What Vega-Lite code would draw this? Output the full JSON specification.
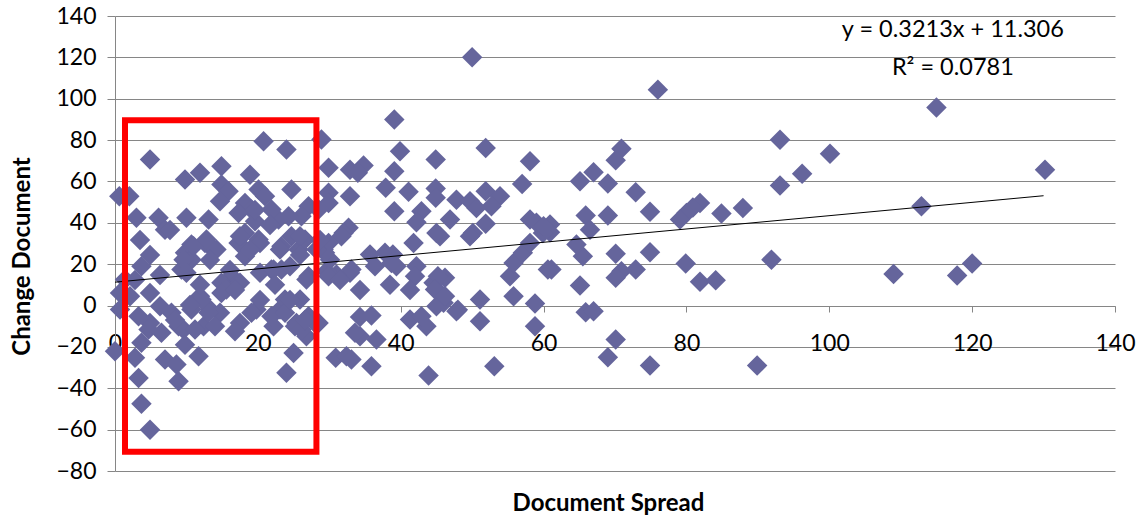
{
  "$schema": "https://vega.github.io/schema/vega-lite/v6.json",
  "width": 1000,
  "height": 455,
  "autosize": {"type": "none"},
  "padding": {"left": 115, "top": 16, "right": 27, "bottom": 46},
  "background": "white",
  "config": {"view": {"stroke": null}, "font": "Lato"},
  "datasets": {
    "points": [
      {"x":130.2,"y":65.7},{"x":115,"y":95.7},{"x":112.9,"y":48},{"x":109,"y":15.3},{"x":117.9,"y":14.5},{"x":120,"y":20.3},{"x":100.1,"y":73.4},{"x":93.1,"y":80.2},{"x":76,"y":104.4},{"x":93.1,"y":58},{"x":96.2,"y":63.7},{"x":70.9,"y":75.8},{"x":70.1,"y":70.2},{"x":67,"y":64.4},{"x":65.1,"y":60.1},{"x":69,"y":59},{"x":72.9,"y":54.8},{"x":74.9,"y":45.4},{"x":65.9,"y":43.5},{"x":69,"y":43.5},{"x":66.5,"y":36.7},{"x":81.9,"y":49.6},{"x":80.9,"y":47.4},{"x":80,"y":44.8},{"x":79.1,"y":41.6},{"x":84.9,"y":44.5},{"x":87.9,"y":47.2},{"x":60.9,"y":39.2},{"x":60.9,"y":35.4},
      {"x":91.9,"y":22.2},{"x":79.9,"y":20.3},{"x":81.9,"y":11.5},{"x":84.1,"y":12.2},{"x":74.9,"y":25.8},{"x":70.1,"y":25.1},{"x":72.9,"y":17.4},{"x":70.9,"y":16.6},{"x":70.1,"y":13.4},{"x":65.1,"y":9.7},{"x":65.9,"y":-3.2},{"x":67,"y":-2.7},{"x":70.1,"y":-16.4},{"x":69,"y":-25},{"x":74.9,"y":-29},{"x":89.9,"y":-29},{"x":61.1,"y":17.4},{"x":65.5,"y":23.8},{"x":64.6,"y":29.5},{"x":50,"y":120},
      {"x":60.6,"y":17.4},{"x":58.8,"y":1},{"x":58.8,"y":-10},{"x":53.1,"y":-29.3},{"x":51.1,"y":2.9},{"x":51.1,"y":-7.6},{"x":43.9,"y":-33.8},{"x":35.9,"y":-29.3},{"x":30.9,"y":-25.3},{"x":32.4,"y":-24.5},{"x":34.3,"y":-14.8},{"x":36.6,"y":-16.4},{"x":34.3,"y":-5.5},{"x":35.9,"y":-4.8},{"x":41.3,"y":-6.8},{"x":43.6,"y":-10},{"x":47.8,"y":-2.8},{"x":45.5,"y":6.1},{"x":46,"y":1.3},{"x":46.2,"y":13.4},{"x":45,"y":-0.3},{"x":55.8,"y":4.5},{"x":55.3,"y":14.2},{"x":55.8,"y":20.6},{"x":57.1,"y":25.5},{"x":58.1,"y":30.3},{"x":59.9,"y":35.1},{"x":42.2,"y":19},{"x":39.4,"y":19},{"x":44.6,"y":11},{"x":35.7,"y":24.7},{"x":38.9,"y":24.7},{"x":32.9,"y":15.8},{"x":31,"y":15},{"x":29.6,"y":16.6},{"x":29.2,"y":27.1},{"x":30.1,"y":22.2},{"x":41.8,"y":30.3},{"x":45.5,"y":33.5},{"x":50.1,"y":35.1},{"x":28.2,"y":-9.2},
      {"x":39.1,"y":89.9},{"x":28.9,"y":80.3},{"x":39.9,"y":74.6},{"x":51.9,"y":76.2},{"x":44.9,"y":70.6},{"x":58.1,"y":69.8},{"x":29.9,"y":66.6},{"x":32.9,"y":65.7},{"x":34.8,"y":67.7},{"x":34,"y":64.2},{"x":39.1,"y":64.9},{"x":57,"y":58.8},{"x":37.9,"y":56.9},{"x":41.1,"y":55},{"x":44.9,"y":56.6},{"x":44.9,"y":52.1},{"x":47.8,"y":51.2},{"x":49.7,"y":50.4},{"x":51.9,"y":55.3},{"x":53.9,"y":52.8},{"x":52.7,"y":48},{"x":50.6,"y":47.2},{"x":29.9,"y":54.5},{"x":29.9,"y":49.6},{"x":32.9,"y":52.8},{"x":39.1,"y":45.6},{"x":42.9,"y":45.6},{"x":42.2,"y":40.3},{"x":46.9,"y":41.6},{"x":51.9,"y":39.6},{"x":58.1,"y":41.6},{"x":59,"y":40},{"x":60,"y":38.3},{"x":32.7,"y":37.6},{"x":32,"y":35.1},{"x":45,"y":35.1},{"x":49.7,"y":33.5},
      {"x":24,"y":75.4},{"x":24.7,"y":56.1},{"x":28.5,"y":46.4},{"x":27.1,"y":48},{"x":26.1,"y":43.2},{"x":24.3,"y":43.2},{"x":22.9,"y":41.6},{"x":31.7,"y":33.5},{"x":29.9,"y":30.3},{"x":24.7,"y":33.5},{"x":26.6,"y":31.9},{"x":25.7,"y":27.1},{"x":23.3,"y":28.7},{"x":29.4,"y":25.5},{"x":37.8,"y":25.5},{"x":23.3,"y":17.4},{"x":27.1,"y":14.2},{"x":29.9,"y":14.2},{"x":33.1,"y":17.4},{"x":36.4,"y":19},{"x":38.7,"y":20.6},{"x":42,"y":14.2},{"x":45.2,"y":14.2},
      {"x":20.8,"y":79.4},{"x":4.9,"y":70.6},{"x":9.8,"y":60.9},{"x":11.9,"y":64.2},{"x":14.9,"y":67.3},{"x":18.9,"y":63.3},{"x":14.9,"y":58.5},{"x":15.9,"y":55.3},{"x":0.6,"y":52.8},{"x":2,"y":52.8},{"x":14.7,"y":50.4},{"x":20.1,"y":56.1},{"x":21,"y":52.8},{"x":18.2,"y":49.6},{"x":19.1,"y":46.4},{"x":3,"y":42.4},{"x":6.1,"y":42.4},{"x":7,"y":36.7},{"x":10,"y":42.4},{"x":13.1,"y":41.6},{"x":17.3,"y":44.8},{"x":21.9,"y":46.4},{"x":19.6,"y":40.8},{"x":18.2,"y":35.1},{"x":20.1,"y":31.9},{"x":10.7,"y":29.5},{"x":9.8,"y":25.5},{"x":13.5,"y":27.9},{"x":12.6,"y":30.3},{"x":17.3,"y":30.3},{"x":18.2,"y":23.8},{"x":21.9,"y":17.4},{"x":3.7,"y":19},{"x":10.7,"y":22.2},{"x":9.3,"y":17.4},{"x":1.4,"y":12.6},{"x":16.3,"y":14.2},{"x":14.9,"y":11},
      {"x":0.7,"y":6.1},{"x":2.1,"y":4.5},{"x":0.7,"y":-1.9},{"x":4.9,"y":6.1},{"x":6.3,"y":-0.3},{"x":4.9,"y":-8.4},{"x":9.6,"y":-11.6},{"x":9.6,"y":22.2},{"x":11,"y":28.7},{"x":12.8,"y":31.9},{"x":10,"y":15.8},{"x":14.2,"y":27.1},{"x":17.5,"y":33.5},{"x":20.3,"y":30.3},{"x":23.1,"y":27.1},{"x":25.9,"y":33.5},{"x":28.2,"y":27.1},{"x":11.9,"y":4.5},{"x":13.3,"y":-1.9},{"x":15.6,"y":7.7},{"x":17.5,"y":11},{"x":20.3,"y":15.8},{"x":22.2,"y":17.4},{"x":24.5,"y":19},{"x":26.8,"y":12.6},{"x":25.9,"y":2.9},{"x":23.1,"y":-1.9},{"x":19.8,"y":-1.9},{"x":17.5,"y":-8.4},{"x":14.7,"y":-3.5},{"x":12.4,"y":-10},{"x":22.2,"y":-10},{"x":25.4,"y":-8.4},{"x":26.8,"y":-14.8},
      {"x":3.3,"y":-5.2},{"x":4.7,"y":-11.6},{"x":3.7,"y":-18},{"x":0,"y":-22.1},{"x":2.8,"y":-25.3},{"x":3.3,"y":-35},{"x":3.7,"y":-47.5},{"x":4.9,"y":-60},{"x":7,"y":-26.1},{"x":8.6,"y":-28.5},{"x":8.9,"y":-36.6},{"x":9.8,"y":-18.9},{"x":11.7,"y":-24.5},{"x":8.9,"y":-10},{"x":7.9,"y":-3.5},{"x":13.1,"y":-3.5},{"x":14,"y":-10},{"x":16.8,"y":-12.4},{"x":11.2,"y":-11.6},{"x":10.7,"y":-1.9},{"x":12.1,"y":2.9},{"x":14.9,"y":6.1},{"x":19.1,"y":-3.5},{"x":21.9,"y":-5.2},{"x":24,"y":-32.5},{"x":6.5,"y":-13.2},{"x":25,"y":-22.9},{"x":23.8,"y":2.9},{"x":23.8,"y":-3.5},{"x":25.2,"y":-10},{"x":27.1,"y":-5.2},{"x":26.1,"y":-11.6},{"x":28.5,"y":-8.4},
      {"x":33.6,"y":-13.2},{"x":33.1,"y":-26.1},{"x":42.9,"y":-5.2},{"x":44.8,"y":7.7},{"x":46.2,"y":4.5},{"x":48,"y":-2},
      {"x":3.5,"y":31.7},{"x":4.9,"y":24.4},{"x":6.3,"y":14.8},{"x":2.8,"y":12.3},{"x":7.7,"y":36.5},{"x":13.3,"y":22},{"x":16.1,"y":17.2},{"x":11.9,"y":10},{"x":16.8,"y":7.5},{"x":18.9,"y":26.8},{"x":19.6,"y":46.2},{"x":21.7,"y":39},{"x":24.5,"y":2.7},{"x":26.6,"y":-7},{"x":10.5,"y":0.3},{"x":8.4,"y":-7},{"x":20.3,"y":2.7},{"x":22.4,"y":10},{"x":25.9,"y":24.4},{"x":28.7,"y":31.7},{"x":31.5,"y":12.3},{"x":34.3,"y":7.5},{"x":38.5,"y":10},{"x":41.3,"y":7.5}
    ],
    "trend": [{"x":0,"y":11.3},{"x":130,"y":53.1}],
    "box": [{"x1":1.4,"x2":28.2,"y1":89.6,"y2":-70.7}],
    "labels": [
      {"x":117.3,"y":133.2,"label":"y = 0.3213x + 11.306"},
      {"x":117.3,"y":114.7,"label":"R² = 0.0781"}
    ]
  },
  "layer": [
    {
      "data": {"name": "points"},
      "mark": {"type": "point", "shape": "diamond", "filled": true, "size": 420, "color": "#65659C", "opacity": 1},
      "encoding": {
        "x": {
          "field": "x", "type": "quantitative",
          "scale": {"domain": [0, 140], "nice": false, "zero": false},
          "axis": {
            "values": [0, 20, 40, 60, 80, 100, 120, 140],
            "title": "Document Spread",
            "offset": -165,
            "grid": false,
            "domainColor": "#868686",
            "tickColor": "#868686",
            "tickSize": 6,
            "labelFontSize": 23,
            "labelPadding": 20,
            "labelColor": "#000000",
            "labelFlush": false,
            "labelOverlap": false,
            "titleFontSize": 24,
            "titleFontWeight": "bold",
            "titleColor": "#000000",
            "titleX": 493,
            "titleY": 197,
            "titleAlign": "center",
            "titleBaseline": "middle"
          }
        },
        "y": {
          "field": "y", "type": "quantitative",
          "scale": {"domain": [-80, 140], "nice": false, "zero": false},
          "axis": {
            "values": [-80, -60, -40, -20, 0, 20, 40, 60, 80, 100, 120, 140],
            "title": "Change Document",
            "grid": true,
            "gridColor": "#868686",
            "gridOpacity": 1,
            "domainColor": "#868686",
            "tickColor": "#868686",
            "tickSize": 8,
            "labelFontSize": 23,
            "labelPadding": 11,
            "labelColor": "#000000",
            "labelFlush": false,
            "labelOverlap": false,
            "titleFontSize": 24,
            "titleFontWeight": "bold",
            "titleColor": "#000000",
            "titleX": -93,
            "titleY": 240,
            "titleAngle": -90,
            "titleAlign": "center",
            "titleBaseline": "middle"
          }
        }
      }
    },
    {
      "data": {"name": "trend"},
      "mark": {"type": "line", "color": "#000000", "strokeWidth": 1},
      "encoding": {
        "x": {"field": "x", "type": "quantitative"},
        "y": {"field": "y", "type": "quantitative"}
      }
    },
    {
      "data": {"name": "box"},
      "mark": {"type": "rect", "filled": false, "stroke": "#FF0000", "strokeWidth": 6},
      "encoding": {
        "x": {"field": "x1", "type": "quantitative"},
        "x2": {"field": "x2"},
        "y": {"field": "y1", "type": "quantitative"},
        "y2": {"field": "y2"}
      }
    },
    {
      "data": {"name": "labels"},
      "mark": {"type": "text", "fontSize": 23.5, "align": "center", "baseline": "middle", "color": "#000000"},
      "encoding": {
        "x": {"field": "x", "type": "quantitative"},
        "y": {"field": "y", "type": "quantitative"},
        "text": {"field": "label"}
      }
    }
  ]
}
